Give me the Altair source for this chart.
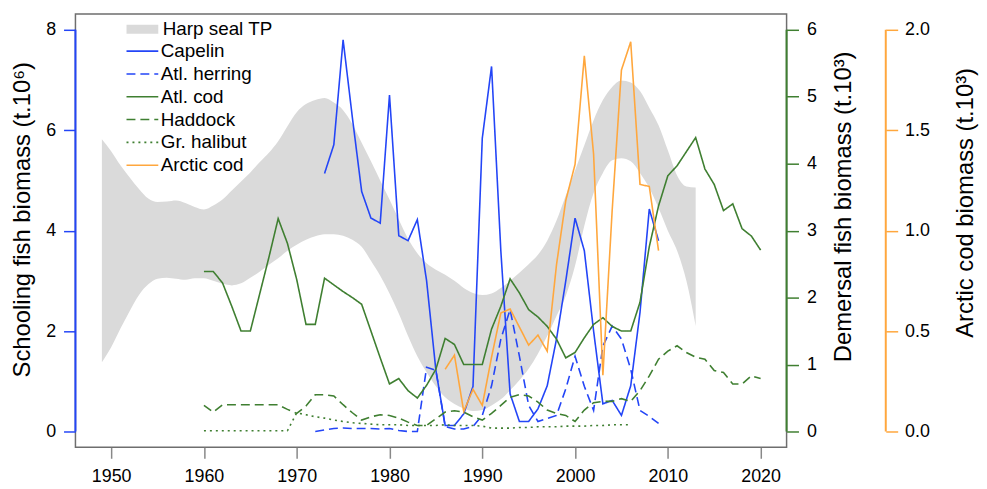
import altair as alt
import pandas as pd

FONT = "Liberation Sans"
BLUE = "#2345f7"
GREEN = "#3f7f31"
ORANGE = "#ffa73d"
BAND = "#dadada"

# ---------------- data ----------------
band_years = list(range(1949, 2014))
band_upper = [5.82, 5.58, 5.30, 5.06, 4.83, 4.64, 4.57, 4.58, 4.60, 4.55,
              4.47, 4.42, 4.50, 4.62, 4.80, 4.98, 5.16, 5.36, 5.55, 5.78,
              6.08, 6.36, 6.52, 6.60, 6.64, 6.55, 6.40, 6.12, 5.75, 5.38,
              5.00, 4.62, 4.22, 3.84, 3.55, 3.35, 3.22, 3.12, 3.00, 2.86,
              2.76, 2.72, 2.75, 2.86, 3.00, 3.16, 3.33, 3.52, 3.80, 4.20,
              4.70, 5.20, 5.70, 6.20, 6.60, 6.86, 6.99, 6.95, 6.78, 6.45,
              6.10, 5.60, 5.10, 4.88, 4.86]
band_lower = [1.38, 1.68, 2.05, 2.40, 2.72, 2.93, 3.04, 3.06, 3.04, 3.02,
              3.05, 3.05, 3.00, 2.94, 2.91, 2.95, 3.06, 3.18, 3.32, 3.45,
              3.60, 3.72, 3.82, 3.89, 3.93, 3.93, 3.90, 3.82, 3.68, 3.40,
              3.10, 2.75, 2.35, 1.90, 1.50, 1.18, 0.90, 0.68, 0.55, 0.46,
              0.41, 0.43, 0.52, 0.64, 0.82, 1.02, 1.25, 1.55, 1.90, 2.30,
              2.70, 3.30, 4.10, 4.75, 5.15, 5.40, 5.44, 5.38, 5.15, 4.85,
              4.45, 4.00, 3.60, 3.00, 2.10]

capelin_years = list(range(1973, 2010))
capelin = [5.14, 5.71, 7.80, 6.25, 4.78, 4.25, 4.15, 6.70, 3.90, 3.80,
           4.22, 3.00, 1.22, 0.12, 0.12, 0.35, 0.90, 5.84, 7.27, 3.60,
           0.75, 0.20, 0.20, 0.45, 0.91, 1.84, 3.00, 4.25, 3.60, 2.00,
           0.55, 0.62, 0.32, 0.91, 2.37, 4.43, 3.80]

herring_years = list(range(1972, 2010))
herring = [0.00, 0.03, 0.06, 0.07, 0.06, 0.06, 0.06, 0.05, 0.06, 0.02,
           0.00, 0.00, 1.28, 1.22, 0.10, 0.05, 0.05, 0.10, 0.32, 0.91,
           1.84, 2.43, 1.50, 0.52, 0.20, 0.26, 0.32, 0.85, 1.50, 0.90,
           0.42, 1.70, 2.10, 1.84, 1.24, 0.42, 0.30, 0.16]

cod_years = list(range(1960, 2021))
atl_cod = [2.39, 2.39, 2.22, 1.87, 1.50, 1.50, 2.05, 2.60, 3.18, 2.81,
           2.27, 1.60, 1.60, 2.29, 2.19, 2.09, 2.00, 1.90, 1.50, 1.10,
           0.71, 0.79, 0.61, 0.50, 0.69, 0.93, 1.39, 1.30, 1.00, 1.00,
           1.00, 1.53, 1.87, 2.28, 2.07, 1.82, 1.71, 1.57, 1.38, 1.10,
           1.18, 1.40, 1.60, 1.70, 1.57, 1.50, 1.50, 1.93, 2.76, 3.37,
           3.82, 3.97, 4.18, 4.39, 3.92, 3.69, 3.30, 3.40, 3.03, 2.92,
           2.71]

haddock_years = list(range(1960, 2021))
haddock = [0.39, 0.29, 0.40, 0.40, 0.40, 0.40, 0.40, 0.40, 0.40, 0.33,
           0.27, 0.38, 0.55, 0.55, 0.53, 0.40, 0.28, 0.17, 0.22, 0.25,
           0.24, 0.20, 0.14, 0.09, 0.09, 0.19, 0.29, 0.31, 0.29, 0.22,
           0.17, 0.27, 0.39, 0.51, 0.55, 0.53, 0.44, 0.32, 0.27, 0.24,
           0.15, 0.32, 0.43, 0.45, 0.45, 0.49, 0.45, 0.61, 0.83, 1.08,
           1.20, 1.28, 1.18, 1.11, 1.08, 0.91, 0.88, 0.71, 0.71, 0.83,
           0.79]

halibut_years = list(range(1960, 2007))
halibut = [0.01, 0.01, 0.01, 0.01, 0.01, 0.01, 0.01, 0.01, 0.01, 0.01,
           0.28, 0.25, 0.22, 0.20, 0.17, 0.15, 0.13, 0.12, 0.11, 0.10,
           0.10, 0.10, 0.09, 0.09, 0.09, 0.09, 0.10, 0.09, 0.09, 0.09,
           0.08, 0.05, 0.05, 0.05, 0.06, 0.06, 0.07, 0.07, 0.07, 0.08,
           0.08, 0.08, 0.09, 0.09, 0.10, 0.10, 0.10]

arctic_years = list(range(1986, 2010))
arctic_cod = [0.31, 0.38, 0.10, 0.21, 0.13, 0.37, 0.59, 0.61, 0.52, 0.43,
              0.48, 0.40, 0.83, 1.15, 1.33, 1.87, 1.38, 0.28, 1.10, 1.80,
              1.94, 1.23, 1.22, 0.90]

band_name = ["Harp seal TP"]
line_names = ["Capelin", "Atl. herring", "Atl. cod", "Haddock",
              "Gr. halibut", "Arctic cod"]
line_colors = [BLUE, BLUE, GREEN, GREEN, GREEN, ORANGE]
line_dashes = [[1, 0], [9, 5], [1, 0], [9, 5], [2, 4], [1, 0]]


def long_df(pairs):
    rows = []
    for name, yrs, vals in pairs:
        for y, v in zip(yrs, vals):
            rows.append({"year": y, "value": v, "series": name})
    return pd.DataFrame(rows)


band_df = pd.DataFrame({"year": band_years, "upper": band_upper,
                        "lower": band_lower, "series": band_name * len(band_years)})
left_df = long_df([("Capelin", capelin_years, capelin),
                   ("Atl. herring", herring_years, herring)])
green_df = long_df([("Atl. cod", cod_years, atl_cod),
                    ("Haddock", haddock_years, haddock),
                    ("Gr. halibut", halibut_years, halibut)])
orange_df = long_df([("Arctic cod", arctic_years, arctic_cod)])
dummy = pd.DataFrame({"a": [0]})

# ---------------- encodings ----------------
x_axis = alt.Axis(values=list(range(1950, 2021, 10)), format="d", title=None,
                  domain=False, grid=False, tickColor="#888888", tickWidth=1.5,
                  tickSize=11, labelFontSize=18, labelPadding=9, labelColor="black",
                  labelFont=FONT)
x_scale = alt.Scale(domain=[1946.15, 2022.8], nice=False, zero=False)


def xenc():
    return alt.X("year:Q", scale=x_scale, axis=x_axis)


line_legend = alt.Legend(orient="none", legendX=58, legendY=28, title=None,
                         symbolType="M-3,0H3", symbolSize=114, labelFontSize=19,
                         labelFont=FONT, labelColor="black", rowPadding=3.0,
                         labelOffset=9, padding=0, symbolFillColor="transparent",
                         symbolStrokeWidth=1.6)
band_legend = alt.Legend(orient="none", legendX=58, legendY=6, title=None,
                         symbolType="M-3,-0.85H3V0.85H-3Z", symbolSize=114,
                         symbolStrokeWidth=0, labelFontSize=19, labelFont=FONT,
                         labelColor="black", labelOffset=11, padding=0)

color_enc = alt.Color("series:N", scale=alt.Scale(domain=line_names, range=line_colors), legend=line_legend)
dash_enc = alt.StrokeDash("series:N", scale=alt.Scale(domain=line_names, range=line_dashes), legend=line_legend)

common_axis = dict(domain=False, grid=False, tickWidth=1.5, tickSize=12,
                   labelFontSize=18, labelColor="black",
                   labelFont=FONT, titleFont=FONT, titleFontSize=24,
                   titleFontWeight="normal", titleColor="black",
                   titleAngle=270, titleAlign="center", titleBaseline="alphabetic")

left_axis = alt.Axis(orient="left", values=[0, 2, 4, 6, 8],
                     title="Schooling fish biomass (t.10⁶)", tickColor=BLUE,
                     labelPadding=8, titleX=-46, titleY=207, **common_axis)
green_axis = alt.Axis(orient="right", values=[0, 1, 2, 3, 4, 5, 6],
                      title="Demersal fish biomass (t.10³)", tickColor=GREEN,
                      labelPadding=8, titleX=64, titleY=194, **common_axis)
orange_axis = alt.Axis(orient="right", offset=100, values=[0, 0.5, 1, 1.5, 2],
                       format=".1f", title="Arctic cod biomass (t.10³)",
                       tickColor=ORANGE, labelPadding=7, titleX=87, titleY=190,
                       **common_axis)

left_scale = alt.Scale(domain=[-0.316, 8.316], nice=False, zero=False)
green_scale = alt.Scale(domain=[-0.237, 6.237], nice=False, zero=False)
orange_scale = alt.Scale(domain=[-0.079, 2.079], nice=False, zero=False)

# ---------------- left (schooling) layer ----------------
band = alt.Chart(band_df).mark_area(interpolate="monotone", opacity=1).encode(
    x=xenc(),
    y=alt.Y("upper:Q", scale=left_scale, axis=left_axis),
    y2="lower:Q",
    fill=alt.Fill("series:N", scale=alt.Scale(domain=band_name, range=[BAND]),
                  legend=band_legend),
)
left_lines = alt.Chart(left_df).mark_line(strokeWidth=1.6).encode(
    x=xenc(),
    y=alt.Y("value:Q", scale=left_scale, axis=left_axis),
    color=color_enc, strokeDash=dash_enc,
    detail="series:N",
)
left_rule = alt.Chart(dummy).mark_rule(color=BLUE, strokeWidth=2).encode(
    x=alt.value(0),
    y=alt.Y(datum=0, type="quantitative", scale=left_scale, axis=left_axis),
    y2=alt.Y2(datum=8),
)
left_layer = alt.layer(band, left_lines, left_rule)

# ---------------- green (demersal) layer ----------------
green_lines = alt.Chart(green_df).mark_line(strokeWidth=1.6).encode(
    x=xenc(),
    y=alt.Y("value:Q", scale=green_scale, axis=green_axis),
    color=color_enc, strokeDash=dash_enc,
    detail="series:N",
)
green_rule = alt.Chart(dummy).mark_rule(color=GREEN, strokeWidth=2).encode(
    x=alt.value("width"),
    y=alt.Y(datum=0, type="quantitative", scale=green_scale, axis=green_axis),
    y2=alt.Y2(datum=6),
)
green_layer = alt.layer(green_lines, green_rule)

# ---------------- orange (arctic cod) layer ----------------
orange_lines = alt.Chart(orange_df).mark_line(strokeWidth=1.6).encode(
    x=xenc(),
    y=alt.Y("value:Q", scale=orange_scale, axis=orange_axis),
    color=color_enc, strokeDash=dash_enc,
    detail="series:N",
)
orange_rule = alt.Chart(dummy).mark_rule(color=ORANGE, strokeWidth=2).encode(
    x=alt.value({"expr": "width + 100"}),
    y=alt.Y(datum=0, type="quantitative", scale=orange_scale, axis=orange_axis),
    y2=alt.Y2(datum=2),
)
orange_layer = alt.layer(orange_lines, orange_rule)

chart = alt.layer(left_layer, green_layer, orange_layer).resolve_scale(
    y="independent"
).properties(
    width=717, height=437,
    padding={"left": 2, "top": 4, "right": 2, "bottom": 2},
).configure(
    font=FONT
).configure_view(
    stroke="#6e6e6e", strokeWidth=1.5
)

chart.save("out.html", embed_options={"renderer": "svg", "actions": False})
